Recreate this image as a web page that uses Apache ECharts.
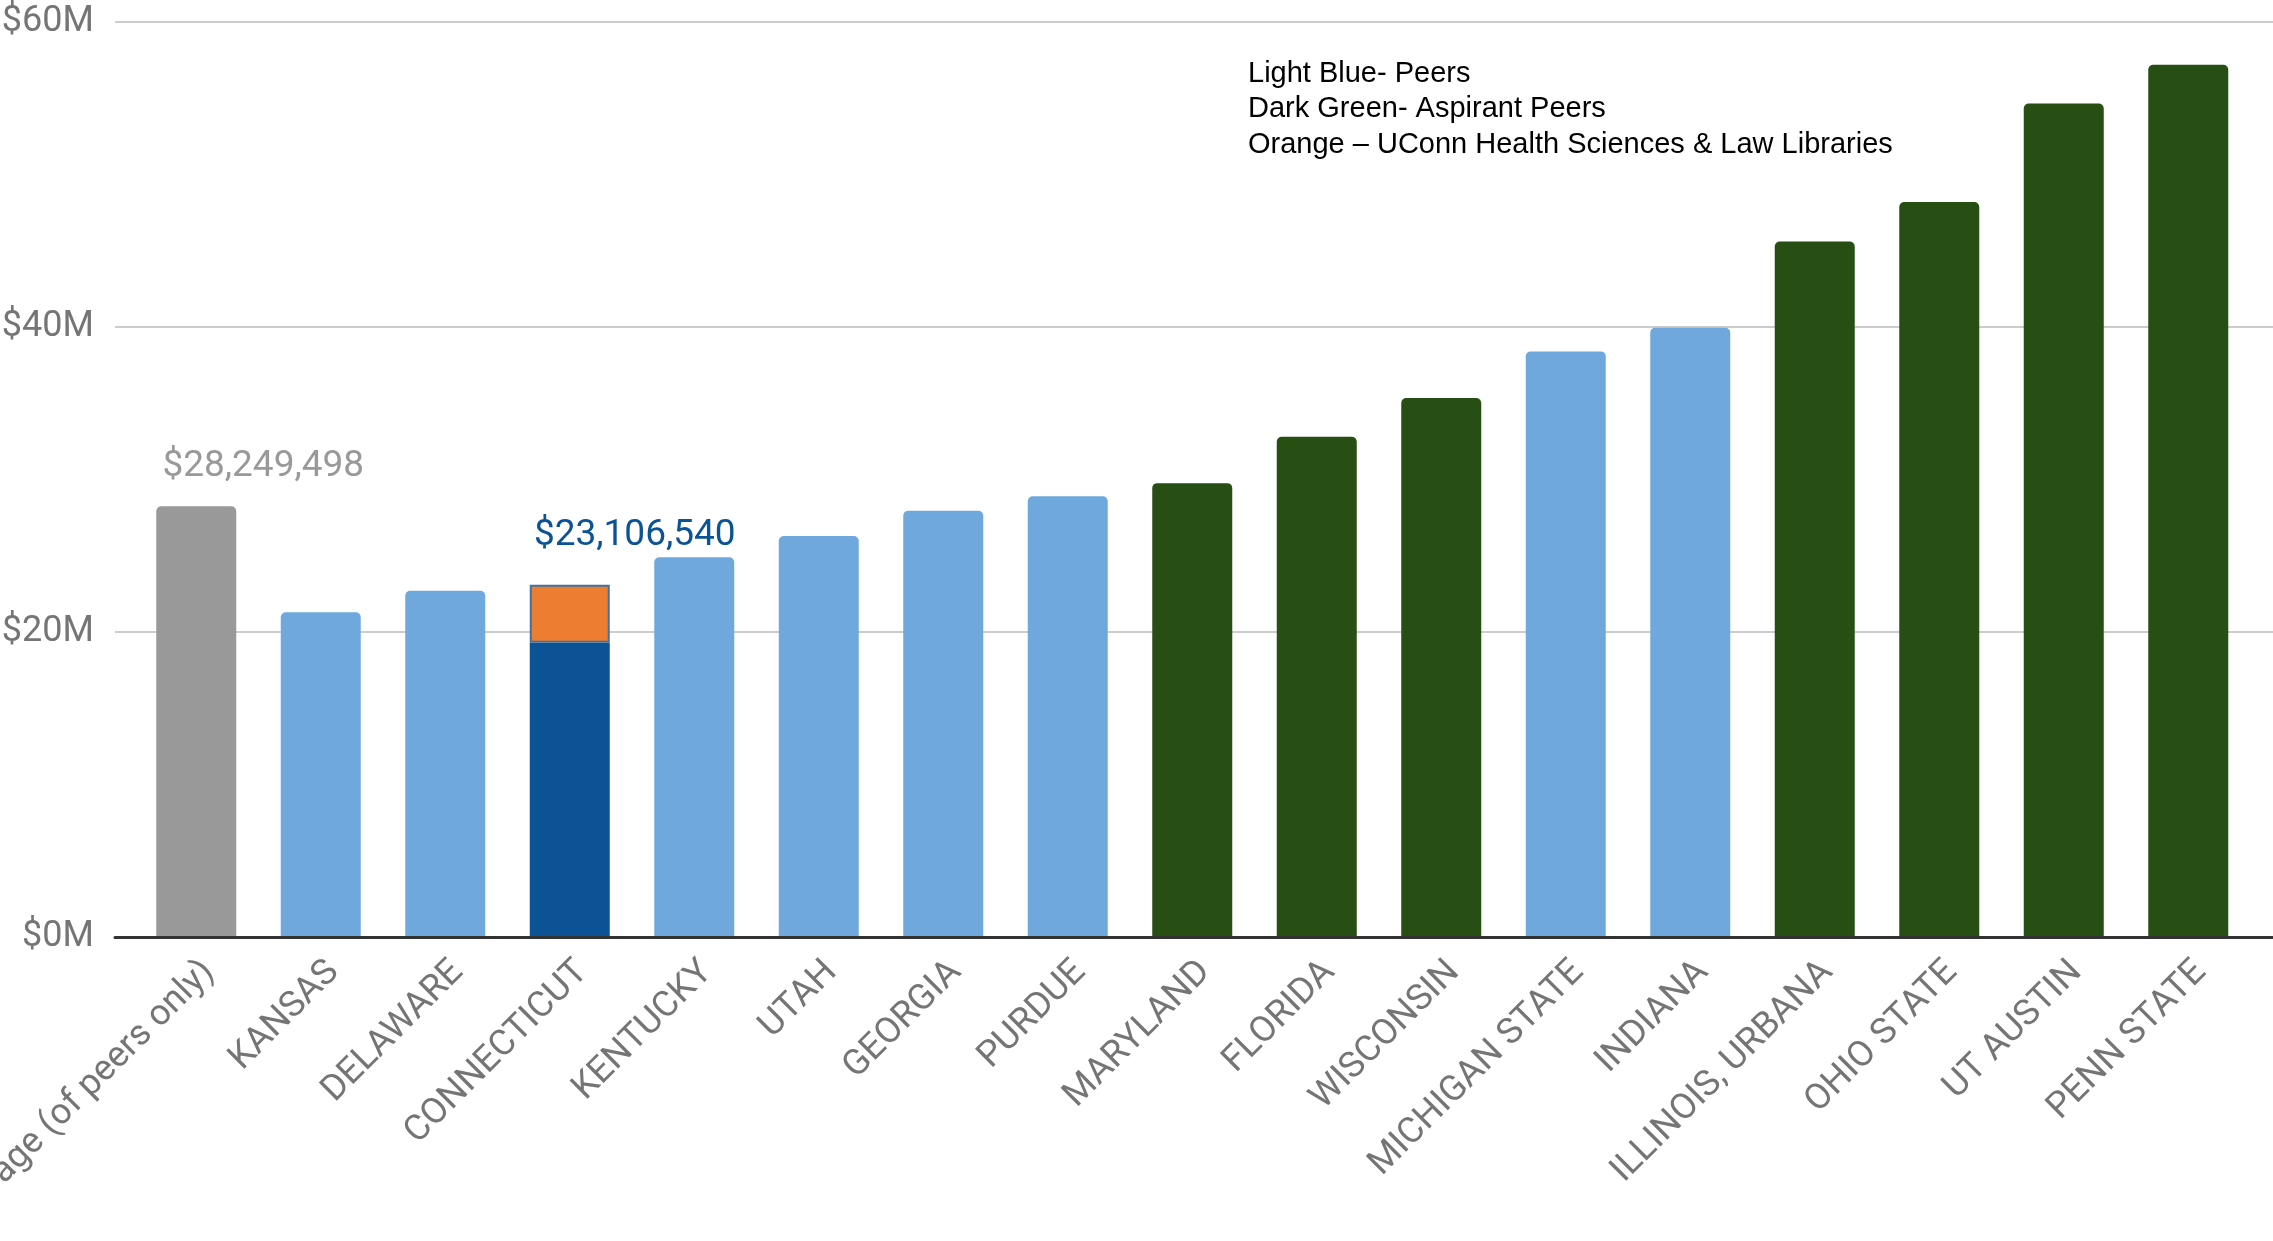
<!DOCTYPE html>
<html>
<head>
<meta charset="utf-8">
<script src="https://cdn.jsdelivr.net/npm/echarts@6/dist/echarts.min.js"></script>
<style>
html,body{margin:0;padding:0;background:#fff;}
#chart{width:2273px;height:1241px;}
</style>
</head>
<body>
<div id="chart"></div>
<script>
// ---- data ----
var categories = ['Average (of peers only)','KANSAS','DELAWARE','CONNECTICUT','KENTUCKY','UTAH','GEORGIA','PURDUE','MARYLAND','FLORIDA','WISCONSIN','MICHIGAN STATE','INDIANA','ILLINOIS, URBANA','OHIO STATE','UT AUSTIN','PENN STATE'];
// values in $ millions
var mainValues = [28.249498, 21.3, 22.7, 19.3, 24.9, 26.3, 27.95, 28.9, 29.76, 32.8, 35.35, 38.4, 39.95, 45.6, 48.2, 54.65, 57.2];
var uconnHealthLaw = [null, null, null, 3.806540, null, null, null, null, null, null, null, null, null, null, null, null, null];
var groups = ['avg','peer','peer','uconn','peer','peer','peer','peer','asp','asp','asp','peer','peer','asp','asp','asp','asp'];
var valueLabels = ['$28,249,498', null, null, '$23,106,540'];
var yTicks = [0, 20, 40, 60];
var noteLines = ['Light Blue- Peers', 'Dark Green- Aspirant Peers', 'Orange \u2013 UConn Health Sciences & Law Libraries'];

var groupColors = { avg: '#999999', peer: '#6fa8dc', uconn: '#0b5394', asp: '#274e13' };

var chart = echarts.init(document.getElementById('chart'), null, { renderer: 'canvas' });

var mainData = mainValues.map(function (v, i) {
  var d = { value: v, itemStyle: { color: groupColors[groups[i]], borderRadius: groups[i] === 'uconn' ? 0 : [5, 5, 0, 0] } };
  if (i === 0) {
    d.label = { show: true, position: 'top', formatter: valueLabels[0], color: '#999999', fontSize: 37, fontFamily: 'Roboto', lineHeight: 38, offset: [67, -15] };
  }
  return d;
});
var uconnData = uconnHealthLaw.map(function (v, i) {
  if (v == null) return '-';
  return {
    value: v,
    label: { show: true, position: 'top', formatter: valueLabels[i], color: '#0b5394', fontSize: 37, fontFamily: 'Roboto', lineHeight: 38, offset: [65, -25] }
  };
});

var option = {
  backgroundColor: '#ffffff',
  animation: false,
  grid: [
    { left: 115, right: 0, top: 22, bottom: 304, containLabel: false, outerBoundsMode: 'none' },
    { left: 134, right: 22.5, top: 22, bottom: 304, containLabel: false, outerBoundsMode: 'none' }
  ],
  xAxis: [
    { gridIndex: 0, type: 'category', data: [''], axisLine: { show: true, lineStyle: { color: '#333333', width: 3 } }, axisTick: { show: false }, axisLabel: { show: false }, z: 10 },
    { gridIndex: 1, type: 'category', data: categories,
      axisLine: { show: false }, axisTick: { show: false },
      axisLabel: { rotate: 45, interval: 0, color: '#757575', fontSize: 36, fontFamily: 'Roboto', margin: 17, verticalAlign: 'top' } }
  ],
  yAxis: [
    { gridIndex: 0, type: 'value', min: yTicks[0], max: yTicks[yTicks.length - 1], interval: 20,
      axisLine: { show: false }, axisTick: { show: false },
      axisLabel: { color: '#757575', fontSize: 36, fontFamily: 'Roboto', margin: 21, formatter: function (v) { return '$' + v + 'M'; } },
      splitLine: { lineStyle: { color: '#cccccc', width: 2 } } },
    { gridIndex: 1, type: 'value', min: yTicks[0], max: yTicks[yTicks.length - 1], interval: 20, show: false, splitLine: { show: false } }
  ],
  series: [
    { type: 'bar', name: 'Main', xAxisIndex: 1, yAxisIndex: 1, stack: 'total', barWidth: 80, data: mainData },
    { type: 'bar', name: 'UConn Health Sciences & Law Libraries', xAxisIndex: 1, yAxisIndex: 1, stack: 'total', barWidth: 80,
      itemStyle: { color: '#ed7d31', borderColor: '#41719c', borderWidth: 2 }, data: uconnData }
  ],
  graphic: [
    { type: 'text', left: 1248, top: 56, style: { text: noteLines.join('\n'), font: '29px "Liberation Sans", Arial, sans-serif', lineHeight: 35.5, fill: '#000000' } }
  ]
};
chart.setOption(option);
</script>
</body>
</html>
